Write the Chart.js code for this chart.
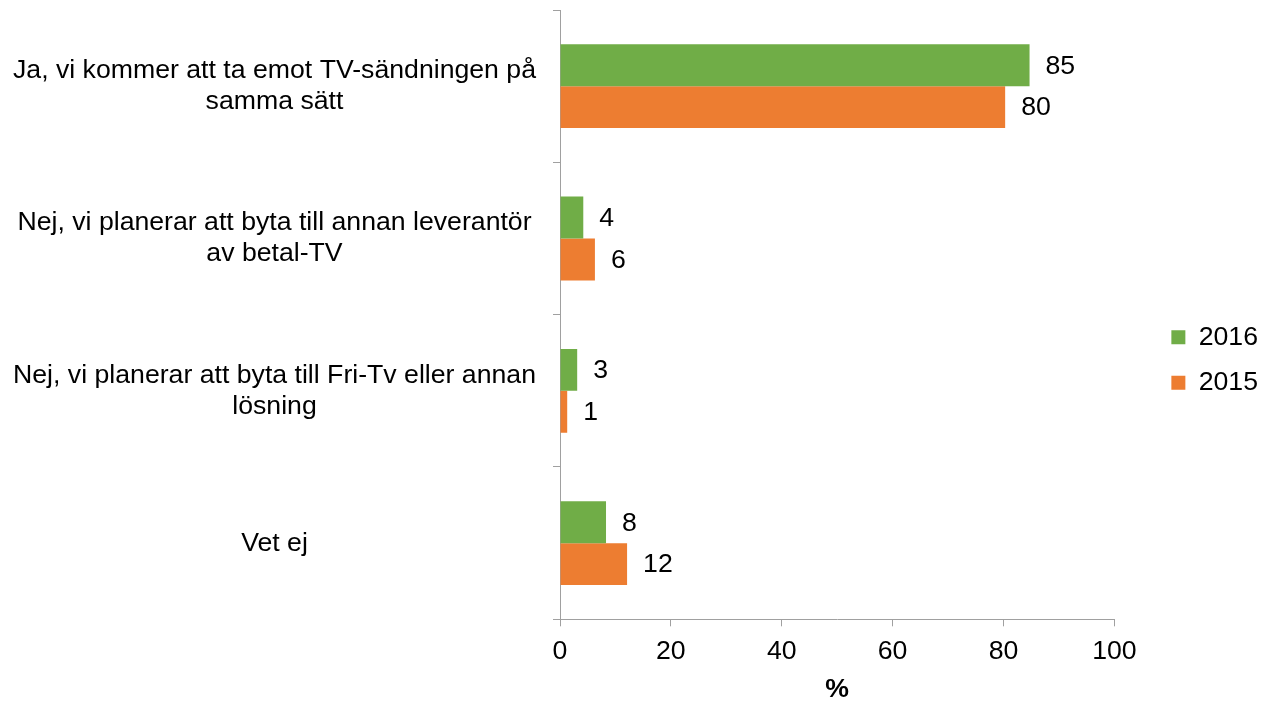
<!DOCTYPE html>
<html>
<head>
<meta charset="utf-8">
<script src="https://cdn.jsdelivr.net/npm/chart.js@4"></script>
<style>
  body { margin: 0; background: #fff; }
  canvas { display: block; }
</style>
</head>
<body>
<canvas id="chart" width="1261" height="703"></canvas>
<script>
// answer categories (wrapped like the original)
const answers = [
  ['Ja, vi kommer att ta emot TV-sändningen på', 'samma sätt'],
  ['Nej, vi planerar att byta till annan leverantör', 'av betal-TV'],
  ['Nej, vi planerar att byta till Fri-Tv eller annan', 'lösning'],
  'Vet ej'
];
const values2016 = [84.7, 4.2, 3.1, 8.3];
const values2015 = [80.3, 6.3, 1.3, 12.1];
const xTicks = [0, 20, 40, 60, 80, 100];

const FONT = '"Liberation Sans", Arial, sans-serif';
const SIZE = 26.67; // 20pt
const canvas = document.getElementById('chart');

// value labels next to bar ends
const barLabels = {
  id: 'barLabels',
  afterDatasetsDraw(chart) {
    const ctx = chart.ctx;
    ctx.save();
    ctx.font = SIZE + 'px ' + FONT;
    ctx.fillStyle = '#000';
    ctx.textAlign = 'left';
    ctx.textBaseline = 'middle';
    chart.data.datasets.forEach(function(ds, i) {
      chart.getDatasetMeta(i).data.forEach(function(bar, j) {
        ctx.fillText(Math.round(ds.data[j]), bar.x + 16, bar.y + 1);
      });
    });
    ctx.restore();
  }
};

const chart = new Chart(canvas, {
  type: 'bar',
  data: {
    labels: answers,
    datasets: [
      {
        label: '2016',
        data: values2016,
        backgroundColor: '#70ad47',
        categoryPercentage: 0.55,
        barPercentage: 1
      },
      {
        label: '2015',
        data: values2015,
        backgroundColor: '#ed7d31',
        categoryPercentage: 0.55,
        barPercentage: 1
      }
    ]
  },
  options: {
    responsive: false,
    animation: false,
    indexAxis: 'y',
    layout: { padding: { top: 10, left: 8, right: -7, bottom: -7 } },
    scales: {
      x: {
        min: 0,
        max: 100,
        afterBuildTicks: function(scale) {
          scale.ticks = xTicks.map(function(v) { return { value: v }; });
        },
        border: { color: '#a0a0a0' },
        grid: { drawOnChartArea: false, tickLength: 7, color: '#a0a0a0' },
        ticks: {
          color: '#000',
          padding: 9,
          font: { family: FONT, size: SIZE }
        },
        title: {
          display: true,
          text: '%',
          color: '#000',
          padding: { top: 0, bottom: 7 },
          font: { family: FONT, size: SIZE, weight: 'bold', lineHeight: 1 }
        }
      },
      y: {
        afterFit: function(scale) {
          scale.width = 552;
          scale.paddingTop = 0;
          scale.paddingBottom = 0;
        },
        border: { color: '#a0a0a0' },
        grid: { drawOnChartArea: false, tickLength: 7, color: '#a0a0a0', offset: true },
        ticks: {
          color: '#000',
          padding: 17,
          crossAlign: 'center',
          font: { family: FONT, size: SIZE, lineHeight: 1.17 }
        }
      },
      // empty spacer between plot and legend
      gap: {
        type: 'linear',
        position: 'right',
        display: true,
        ticks: { display: false },
        grid: { display: false },
        border: { display: false },
        afterFit: function(scale) {
          scale.width = 38;
          scale.paddingTop = 0;
          scale.paddingBottom = 0;
        }
      }
    },
    plugins: {
      legend: {
        position: 'right',
        labels: {
          color: '#000',
          boxWidth: 14,
          boxHeight: 14,
          padding: 19,
          font: { family: FONT, size: SIZE }
        }
      },
      tooltip: { enabled: false }
    }
  },
  plugins: [barLabels]
});
</script>
</body>
</html>
